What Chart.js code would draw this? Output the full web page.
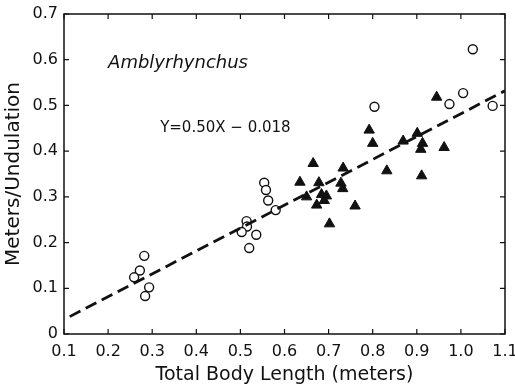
<!DOCTYPE html>
<html>
<head>
<meta charset="utf-8">
<script src="https://cdn.jsdelivr.net/npm/chart.js@4.4.0/dist/chart.umd.min.js"></script>
<style>
  html, body { margin: 0; background: #fff; }
  #wrap { width: 515px; height: 386px; }
</style>
</head>
<body>
<div id="wrap"><canvas id="chart"></canvas></div>
<script>
// Amblyrhynchus: meters per undulation vs total body length, with fitted line.
const xTickValues = [0.1, 0.2, 0.3, 0.4, 0.5, 0.6, 0.7, 0.8, 0.9, 1.0, 1.1];
const xTickLabels = ["0.1", "0.2", "0.3", "0.4", "0.5", "0.6", "0.7", "0.8", "0.9", "1.0", "1.1"];
const yTickValues = [0, 0.1, 0.2, 0.3, 0.4, 0.5, 0.6, 0.7];
const yTickLabels = ["0", "0.1", "0.2", "0.3", "0.4", "0.5", "0.6", "0.7"];

// open circles
const circleX = [0.282, 0.272, 0.259, 0.293, 0.284,
                 0.554, 0.558, 0.563, 0.580, 0.514, 0.515, 0.503, 0.536, 0.520,
                 0.804, 0.974, 1.005, 1.027, 1.072];
const circleY = [0.171, 0.139, 0.124, 0.102, 0.083,
                 0.331, 0.315, 0.292, 0.271, 0.247, 0.235, 0.223, 0.217, 0.188,
                 0.497, 0.503, 0.527, 0.623, 0.499];

// filled triangles
const triX = [0.665, 0.733, 0.635, 0.678, 0.728, 0.732, 0.650, 0.684, 0.695, 0.690,
              0.673, 0.760, 0.702,
              0.945, 0.792, 0.800, 0.869, 0.901, 0.913, 0.909, 0.962, 0.832, 0.911];
const triY = [0.373, 0.363, 0.332, 0.331, 0.330, 0.318, 0.300, 0.305, 0.302, 0.292,
              0.282, 0.280, 0.241,
              0.518, 0.446, 0.417, 0.422, 0.439, 0.417, 0.404, 0.408, 0.357, 0.346];

// regression line Y = 0.50X - 0.018, endpoints as drawn
const fitX = [0.113, 1.1];
const fitY = [0.038, 0.532];

const speciesLabel = "Amblyrhynchus";
const equationLabel = "Y=0.50X \u2212 0.018";

const FONT = "'DejaVu Sans', 'Liberation Sans', sans-serif";

// frame with inward ticks on all four sides + text labels
const framePlugin = {
  id: "frame",
  afterDatasetsDraw(c) {
    const ctx = c.ctx, a = c.chartArea;
    const x = c.scales.x, y = c.scales.y;
    const t = 5;
    ctx.save();
    ctx.strokeStyle = "#111";
    ctx.lineWidth = 1.5;
    ctx.strokeRect(a.left, a.top, a.right - a.left, a.bottom - a.top);
    ctx.lineWidth = 1.2;
    ctx.beginPath();
    xTickValues.forEach(v => {
      const px = x.getPixelForValue(v);
      ctx.moveTo(px, a.bottom); ctx.lineTo(px, a.bottom - t);
      ctx.moveTo(px, a.top); ctx.lineTo(px, a.top + t);
    });
    yTickValues.forEach(v => {
      const py = y.getPixelForValue(v);
      ctx.moveTo(a.left, py); ctx.lineTo(a.left + t, py);
      ctx.moveTo(a.right, py); ctx.lineTo(a.right - t, py);
    });
    ctx.stroke();

    ctx.fillStyle = "#111";
    ctx.textBaseline = "middle";
    ctx.textAlign = "left";
    ctx.font = "italic 18px " + FONT;
    ctx.fillText(speciesLabel, x.getPixelForValue(0.2), y.getPixelForValue(0.593));
    ctx.font = "15px " + FONT;
    ctx.fillText(equationLabel, x.getPixelForValue(0.318), y.getPixelForValue(0.451));
    ctx.restore();
  },
};

new Chart(document.getElementById("chart"), {
  type: "scatter",
  data: {
    datasets: [
      {
        type: "line",
        data: fitX.map((v, i) => ({ x: v, y: fitY[i] })),
        borderColor: "#111", borderWidth: 2.8, borderDash: [12, 6],
        pointRadius: 0, fill: false, tension: 0,
      },
      {
        data: circleX.map((v, i) => ({ x: v, y: circleY[i] })),
        pointStyle: "circle", pointRadius: 4.5,
        borderColor: "#111", borderWidth: 1.4, backgroundColor: "#fff",
      },
      {
        data: triX.map((v, i) => ({ x: v, y: triY[i] })),
        pointStyle: "triangle", pointRadius: 6,
        borderColor: "#111", borderWidth: 1, backgroundColor: "#111",
      },
    ],
  },
  options: {
    responsive: true, maintainAspectRatio: false, animation: false,
    layout: { padding: { left: 0, right: 10, top: 14, bottom: 0 } },
    plugins: { legend: { display: false }, tooltip: { enabled: false } },
    scales: {
      x: {
        type: "linear", min: 0.1, max: 1.1,
        afterBuildTicks: (s) => { s.ticks = xTickValues.map(v => ({ value: v })); },
        afterFit: (s) => { s.height = 52; s.paddingRight = 0; s.paddingLeft = 0; },
        grid: { display: false, drawTicks: false },
        border: { display: false },
        ticks: {
          color: "#111", padding: 8, maxRotation: 0, autoSkip: false,
          font: { family: FONT, size: 16 },
          callback: (v, i) => xTickLabels[i],
        },
        title: {
          display: true, text: "Total Body Length (meters)", color: "#111",
          font: { family: FONT, size: 19 }, padding: { top: 0, bottom: 0 },
        },
      },
      y: {
        type: "linear", min: 0, max: 0.7,
        afterBuildTicks: (s) => { s.ticks = yTickValues.map(v => ({ value: v })); },
        afterFit: (s) => { s.width = 64; s.paddingTop = 0; s.paddingBottom = 0; },
        grid: { display: false, drawTicks: false },
        border: { display: false },
        ticks: {
          color: "#111", padding: 6, autoSkip: false,
          font: { family: FONT, size: 16 },
          callback: (v, i) => yTickLabels[i],
        },
        title: {
          display: true, text: "Meters/Undulation", color: "#111",
          font: { family: FONT, size: 20 }, padding: { top: 2, bottom: 0 },
        },
      },
    },
  },
  plugins: [framePlugin],
});
</script>
</body>
</html>
